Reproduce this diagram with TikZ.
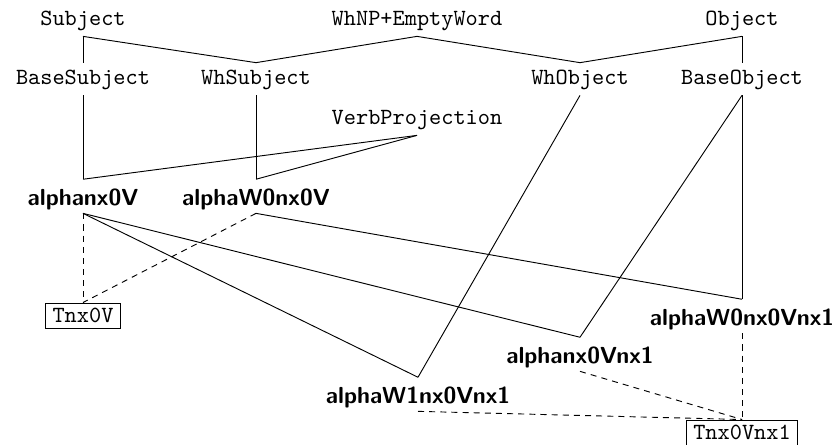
\documentclass[tikz,border=0pt]{standalone}
\begin{document}
\begin{tikzpicture}[x=0.431pt,y=-0.431pt,
  every node/.style={anchor=base,inner xsep=3pt,inner ysep=2pt},
  cls/.style={font=\ttfamily,text height=7pt,text depth=2.7pt},
  tree/.style={font=\sffamily\bfseries,text height=8.9pt,text depth=1.4pt},
  fam/.style={draw,font=\ttfamily,text height=6.2pt,text depth=0.6pt,line width=0.4pt},
  link/.style={line width=0.4pt},
  anchorlink/.style={line width=0.4pt,dash pattern=on 2.6pt off 2.2pt}]
\useasboundingbox (0,0) rectangle (832,444);

% class hierarchy
\node[cls] (subj)  at (83,25)  {Subject};
\node[cls] (whnp)  at (417,25) {WhNP+EmptyWord};
\node[cls] (obj)   at (742,25) {Object};
\node[cls] (bsubj) at (83,84)  {BaseSubject};
\node[cls] (wsubj) at (256,84) {WhSubject};
\node[cls] (wobj)  at (580,84) {WhObject};
\node[cls] (bobj)  at (742,84) {BaseObject};
\node[cls] (vproj) at (417,124) {VerbProjection};

% elementary trees
\node[tree] (a1) at (83,205)  {alphanx0V};
\node[tree] (a2) at (256,205) {alphaW0nx0V};
\node[tree] (a3) at (742,325) {alphaW0nx0Vnx1};
\node[tree] (a4) at (580,363) {alphanx0Vnx1};
\node[tree] (a5) at (418,403) {alphaW1nx0Vnx1};

% tree families
\node[fam] (f1) at (83,322)  {Tnx0V};
\node[fam] (f2) at (742,439) {Tnx0Vnx1};

% inheritance
\draw[link] (subj.south) -- (bsubj.north);
\draw[link] (subj.south) -- (wsubj.north);
\draw[link] (whnp.south) -- (wsubj.north);
\draw[link] (whnp.south) -- (wobj.north);
\draw[link] (obj.south) -- (wobj.north);
\draw[link] (obj.south) -- (bobj.north);
\draw[link] (bsubj.south) -- (a1.north);
\draw[link] (wsubj.south) -- (a2.north);
\draw[link] (vproj.south) -- (a1.north);
\draw[link] (vproj.south) -- (a2.north);
\draw[link] (wobj.south) -- (a5.north);
\draw[link] (bobj.south) -- (a4.north);
\draw[link] (bobj.south) -- (a3.north);
\draw[link] (a1.south) -- (a5.north);
\draw[link] (a1.south) -- (a4.north);
\draw[link] (a2.south) -- (a3.north);

% family membership
\draw[anchorlink] (a1.south) -- (f1.north);
\draw[anchorlink] (a2.south) -- (f1.north);
\draw[anchorlink] (a3.south) -- (f2.north);
\draw[anchorlink] (a4.south) -- (f2.north);
\draw[anchorlink] (a5.south) -- (f2.north);
\end{tikzpicture}
\end{document}
